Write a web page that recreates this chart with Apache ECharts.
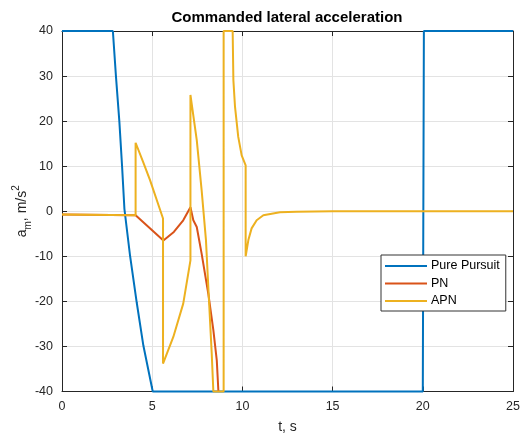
<!DOCTYPE html>
<html>
<head>
<meta charset="utf-8">
<script src="https://cdn.jsdelivr.net/npm/echarts@6/dist/echarts.min.js"></script>
<style>
  html, body { margin: 0; padding: 0; background: #fff; }
  #chart { width: 530px; height: 435px; }
</style>
</head>
<body>
<div id="chart"></div>
<script>
// axis ticks
var xTicks = [0, 5, 10, 15, 20, 25];
var yTicks = [-40, -30, -20, -10, 0, 10, 20, 30, 40];

// Pure Pursuit
var ppT = [0, 2.82, 2.99, 3.18, 3.33, 3.46, 3.77, 4.14, 4.51, 5.03, 20.0, 20.06, 25];
var ppA = [40, 40, 30, 19.9, 10, 0.5, -9.8, -20.2, -29.8, -40, -40, 40, 40];

// PN
var pnT = [0, 4.08, 5.62, 6.2, 6.72, 7.12, 7.28, 7.47, 7.74, 8.11, 8.39, 8.58, 8.67];
var pnA = [-0.74, -0.9, -6.5, -4.6, -2.0, 0.9, -2.0, -3.5, -9.4, -18.3, -26.4, -33.1, -40];

// APN
var apnT = [0, 4.08, 4.08, 4.5, 4.88, 5.6, 5.6, 6.17, 6.72, 7.12, 7.12, 7.47, 7.74, 7.98, 8.11, 8.3, 8.39,
  8.96, 8.96, 9.46, 9.5, 9.59, 9.77, 9.96, 10.18, 10.18, 10.33, 10.51, 10.79, 11.16, 12.08, 13, 15, 25];
var apnA = [-0.74, -0.9, 15.2, 10.9, 6.9, -1.6, -33.8, -27.9, -20.5, -10.9, 25.8, 15.8, 4.7, -6.4, -16.8, -31.6, -40,
  -40, 40, 40, 29.1, 23.2, 16.5, 12.4, 10.2, -10, -6.4, -3.8, -2.0, -0.9, -0.2, -0.1, 0, 0];

function zip(t, a) {
  return t.map(function (v, i) { return [v, a[i]]; });
}

var font = "'Liberation Sans', Arial, sans-serif";
var ink = "#262626";

var chart = echarts.init(document.getElementById("chart"));

function axisBase(pos, ticks, showLabels) {
  return {
    type: "value",
    position: pos,
    min: ticks[0],
    max: ticks[ticks.length - 1],
    interval: ticks[1] - ticks[0],
    axisLine: { show: true, onZero: false, lineStyle: { color: ink, width: 1 } },
    axisTick: { show: true, inside: true, length: 5, lineStyle: { color: ink } },
    axisLabel: {
      show: showLabels,
      color: ink,
      fontFamily: font,
      fontSize: 12.5,
      margin: 9,
    },
    splitLine: { show: showLabels, lineStyle: { color: "#e3e3e3", width: 1 } },
  };
}

var xMain = axisBase("bottom", xTicks, true);
xMain.name = "t, s";
xMain.nameLocation = "middle";
xMain.nameGap = 29;
xMain.nameMoveOverlap = false;
xMain.nameTextStyle = { color: ink, fontFamily: font, fontSize: 14 };

var yMain = axisBase("left", yTicks, true);
yMain.name = "{a|a}{s|m}{a|, m/s}{p|2}";
yMain.nameLocation = "middle";
yMain.nameGap = 29;
yMain.nameRotate = 90;
yMain.nameMoveOverlap = false;
yMain.nameTextStyle = {
  color: ink,
  fontFamily: font,
  rich: {
    a: { fontSize: 14, lineHeight: 22, color: ink, fontFamily: font },
    s: { fontSize: 10, verticalAlign: "bottom", color: ink, fontFamily: font },
    p: { fontSize: 10, verticalAlign: "top", color: ink, fontFamily: font },
  },
};

var option = {
  animation: false,
  backgroundColor: "#fff",
  title: {
    text: "Commanded lateral acceleration",
    left: 287,
    top: 10,
    padding: 0,
    textAlign: "center",
    textStyle: { color: "#000", fontFamily: font, fontSize: 15, fontWeight: "bold" },
  },
  grid: { left: 62, right: 17, top: 31, bottom: 43.5, outerBoundsMode: "none" },
  xAxis: [xMain, axisBase("top", xTicks, false)],
  yAxis: [yMain, axisBase("right", yTicks, false)],
  legend: {
    orient: "vertical",
    left: 381,
    top: 255,
    icon: "rect",
    itemWidth: 42,
    itemHeight: 2,
    itemGap: 3.5,
    padding: [4, 6, 3, 4],
    backgroundColor: "#fff",
    borderColor: "#333",
    borderWidth: 1,
    borderRadius: 0,
    textStyle: { color: "#000", fontFamily: font, fontSize: 12.5, lineHeight: 14, padding: [0, 0, 0, -1] },
    data: ["Pure Pursuit", "PN", "APN"],
  },
  series: [
    {
      name: "Pure Pursuit",
      type: "line",
      data: zip(ppT, ppA),
      symbol: "none",
      clip: false,
      color: "#0072BD",
      lineStyle: { width: 2, color: "#0072BD" },
    },
    {
      name: "PN",
      type: "line",
      data: zip(pnT, pnA),
      symbol: "none",
      clip: false,
      color: "#D95319",
      lineStyle: { width: 2, color: "#D95319" },
    },
    {
      name: "APN",
      type: "line",
      data: zip(apnT, apnA),
      symbol: "none",
      clip: false,
      color: "#EDB120",
      lineStyle: { width: 2, color: "#EDB120" },
    },
  ],
};

chart.setOption(option);
</script>
</body>
</html>
